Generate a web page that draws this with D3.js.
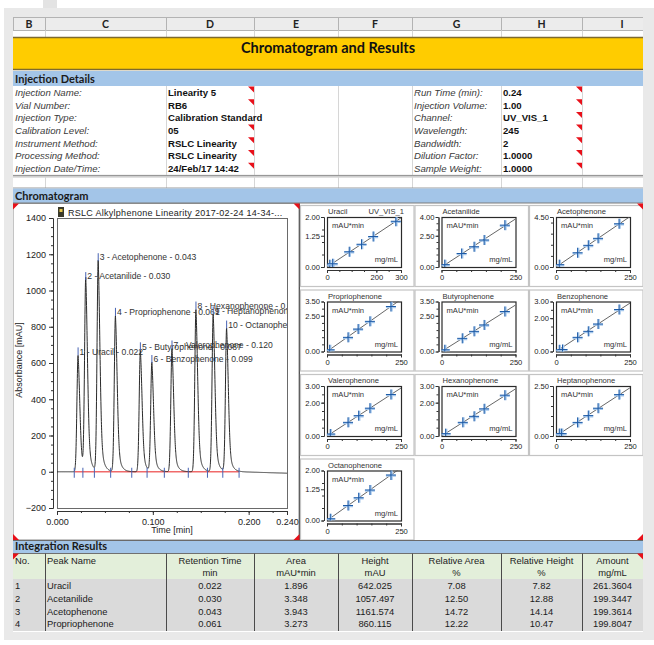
<!DOCTYPE html>
<html>
<head>
<meta charset="utf-8">
<script src="https://cdn.jsdelivr.net/npm/d3@7"></script>
<style>
  body { margin: 0; background: #fff; }
  svg { display: block; }
</style>
</head>
<body>
<div id="report"></div>
<script>
// ---------- data ----------
const colLetters = ['B', 'C', 'D', 'E', 'F', 'G', 'H', 'I'];

const detailLabelsLeft = ['Injection Name:', 'Vial Number:', 'Injection Type:', 'Calibration Level:', 'Instrument Method:', 'Processing Method:', 'Injection Date/Time:'];
const detailValuesLeft = ['Linearity 5', 'RB6', 'Calibration Standard', '05', 'RSLC Linearity', 'RSLC Linearity', '24/Feb/17 14:42'];
const detailLabelsRight = ['Run Time (min):', 'Injection Volume:', 'Channel:', 'Wavelength:', 'Bandwidth:', 'Dilution Factor:', 'Sample Weight:'];
const detailValuesRight = ['0.24', '1.00', 'UV_VIS_1', '245', '2', '1.0000', '1.0000'];

const chromTitle = 'RSLC Alkylphenone Linearity 2017-02-24 14-34-...';
const peakNames = ['Uracil', 'Acetanilide', 'Acetophenone', 'Propriophenone', 'Butyrophenone', 'Benzophenone', 'Valerophenone', 'Hexanophenone', 'Heptanophenone', 'Octanophenone'];
const peakTimes = [0.022, 0.030, 0.043, 0.061, 0.087, 0.099, 0.120, 0.145, 0.163, 0.177];
const peakHeights = [642.0, 1057.5, 1161.6, 860.1, 670, 600, 680, 895, 868, 790];
const peakDelimiters = [0.018, 0.027, 0.039, 0.056, 0.078, 0.094, 0.112, 0.137, 0.157, 0.173, 0.190];
const baselineDrift = [[0, 0], [0.19, 0], [0.24, -8]];
const chromYTicks = [-200, 0, 200, 400, 600, 800, 1000, 1200, 1400];
const chromXTicks = [0, 0.1, 0.2, 0.24];

const calNames = peakNames;
const calXMax = [300, 250, 250, 250, 250, 250, 250, 250, 250, 250];
const calXTicks = [[0, 200, 300], [0, 250], [0, 250], [0, 250], [0, 250], [0, 250], [0, 250], [0, 250], [0, 250], [0, 250]];
const calYMax = [2, 4, 4.5, 3.5, 3.5, 3, 3, 3, 2.5, 2];
const calYTicks = [[0, 1.25, 2], [0, 2.5, 4], [0, 4.5], [0, 2.5, 3.5], [0, 2.5, 3.5], [0, 2, 3], [0, 2, 3], [0, 2, 3], [0, 2.5], [0, 1.25, 2]];
const calPoints = [
  [[11, 0.09], [23, 0.13], [90, 0.61], [140, 0.91], [187, 1.22], [279, 1.83]],
  [[11, 0.19], [68, 1.08], [110, 1.62], [144, 2.16], [214, 3.35]],
  [[11, 0.21], [73, 1.28], [109, 1.95], [142, 2.58], [213, 3.89]],
  [[9, 0.12], [71, 0.99], [105, 1.57], [145, 2.11], [216, 3.15]],
  [[11, 0.12], [70, 0.92], [110, 1.41], [144, 1.86], [214, 2.80]],
  [[11, 0.10], [22, 0.12], [73, 0.85], [109, 1.21], [142, 1.65], [213, 2.52]],
  [[11, 0.12], [71, 0.82], [107, 1.22], [145, 1.67], [216, 2.49]],
  [[14, 0.14], [72, 0.82], [110, 1.18], [144, 1.63], [214, 2.45]],
  [[11, 0.12], [19, 0.12], [73, 0.68], [109, 1.02], [142, 1.39], [213, 2.07]],
  [[11, 0.07], [71, 0.60], [107, 0.91], [145, 1.22], [216, 1.82]]
];

const resultHead1 = ['No.', 'Peak Name', 'Retention Time', 'Area', 'Height', 'Relative Area', 'Relative Height', 'Amount'];
const resultHead2 = ['', '', 'min', 'mAU*min', 'mAU', '%', '%', 'mg/mL'];
const resultNo = ['1', '2', '3', '4'];
const resultNames = ['Uracil', 'Acetanilide', 'Acetophenone', 'Propriophenone'];
const resultRT = ['0.022', '0.030', '0.043', '0.061'];
const resultArea = ['1.896', '3.348', '3.943', '3.273'];
const resultHeight = ['642.025', '1057.497', '1161.574', '860.115'];
const resultRelArea = ['7.08', '12.50', '14.72', '12.22'];
const resultRelHeight = ['7.82', '12.88', '14.14', '10.47'];
const resultAmount = ['261.3604', '199.3447', '199.3614', '199.8047'];

// ---------- layout ----------
const colEdges = [13, 45, 166, 254, 338, 412, 501, 582, 662];
const sheetL = 13, sheetR = 643;
const headFont = 'Lato, "Open Sans", sans-serif';
const cellFont = '"Liberation Sans", Arial, sans-serif';
const blueBand = '#a3c5e8';
const gridGrey = '#d6d6d6';

const svg = d3.select('#report').append('svg')
  .attr('width', 654)
  .attr('height', 645)
  .style('font-family', cellFont);

svg.append('rect').attr('width', 654).attr('height', 645).attr('fill', '#fff');
svg.append('rect').attr('x', 4).attr('y', 8).attr('width', 650).attr('height', 632).attr('fill', '#e9e9e9');
svg.append('rect').attr('x', 43).attr('y', 0).attr('width', 14).attr('height', 8).attr('fill', '#e3e3e3');

const defs = svg.append('defs');
defs.append('clipPath').attr('id', 'sheetClip')
  .append('rect').attr('x', sheetL).attr('y', 17).attr('width', sheetR - sheetL).attr('height', 615);

const sheet = svg.append('g').attr('clip-path', 'url(#sheetClip)');
sheet.append('rect').attr('x', sheetL).attr('y', 17).attr('width', sheetR - sheetL).attr('height', 615).attr('fill', '#fff');

function vLines(g, xs, y1, y2, color) {
  g.append('g').selectAll('line').data(xs).join('line')
    .attr('x1', d => d + 0.5).attr('x2', d => d + 0.5)
    .attr('y1', y1).attr('y2', y2)
    .attr('stroke', color);
}

function hLine(g, y, color, w = 1) {
  g.append('line').attr('x1', sheetL).attr('x2', sheetR).attr('y1', y).attr('y2', y)
    .attr('stroke', color).attr('stroke-width', w);
}

// red comment markers
function flag(g, x, y, corner) {
  const s = 6;
  const pts = {
    tr: [[x, y], [x - s, y], [x, y + s]],
    tl: [[x, y], [x + s, y], [x, y + s]],
    br: [[x, y], [x - s, y], [x, y - s]],
    bl: [[x, y], [x + s, y], [x, y - s]]
  }[corner];
  g.append('path').attr('d', d3.line()(pts) + 'Z').attr('fill', '#e8101a');
}

function band(g, y, h, label) {
  g.append('rect').attr('x', sheetL).attr('y', y).attr('width', sheetR - sheetL).attr('height', h).attr('fill', blueBand);
  g.append('text').attr('x', 15).attr('y', y + h - 3.5)
    .attr('font-family', headFont).attr('font-weight', 'bold').attr('font-size', 11).attr('fill', '#1a1a1a')
    .text(label);
}

// ---------- column header row ----------
sheet.append('g').selectAll('rect').data(colLetters).join('rect')
  .attr('x', (d, i) => colEdges[i] + 0.5).attr('y', 17.5)
  .attr('width', (d, i) => colEdges[i + 1] - colEdges[i]).attr('height', 13)
  .attr('fill', '#ececec').attr('stroke', '#b3b3b3');
sheet.append('g').selectAll('text').data(colLetters).join('text')
  .attr('x', (d, i) => (colEdges[i] + colEdges[i + 1]) / 2).attr('y', 27.5)
  .attr('text-anchor', 'middle')
  .attr('font-family', headFont).attr('font-weight', 'bold').attr('font-size', 10.5).attr('fill', '#222')
  .text(d => d);
vLines(sheet, colEdges.slice(1, 8), 30.5, 37, gridGrey);

// ---------- title ----------
sheet.append('rect').attr('x', sheetL).attr('y', 37).attr('width', sheetR - sheetL).attr('height', 33).attr('fill', '#ffcc00');
hLine(sheet, 37.5, '#7d6a2e', 1.5);
hLine(sheet, 69.5, '#7d6a2e', 1.5);
sheet.append('text').attr('x', 328).attr('y', 53)
  .attr('text-anchor', 'middle')
  .attr('font-family', headFont).attr('font-weight', 'bold').attr('font-size', 14.5).attr('fill', '#111')
  .text('Chromatogram and Results');

// ---------- injection details ----------
band(sheet, 71, 15, 'Injection Details');
const rowH = 12.7, detTop = 86;
vLines(sheet, [166, 254, 338, 412, 501, 582], detTop, detTop + rowH * 7, gridGrey);

const details = sheet.append('g');
detailLabelsLeft.forEach((lab, i) => {
  const y = detTop + i * rowH;
  details.append('text').attr('x', 15).attr('y', y + 9.8)
    .attr('font-style', 'italic').attr('font-size', 9.6).attr('fill', '#3a3a3a').text(lab);
  details.append('text').attr('x', 414).attr('y', y + 9.8)
    .attr('font-style', 'italic').attr('font-size', 9.6).attr('fill', '#3a3a3a').text(detailLabelsRight[i]);
  if (i !== 2) flag(details, 254, y + 0.5, 'tr');
  flag(details, 582, y + 0.5, 'tr');
  details.append('text').attr('x', 168).attr('y', y + 9.8)
    .attr('font-weight', 'bold').attr('font-size', 9.6).attr('fill', '#111').text(detailValuesLeft[i]);
  details.append('text').attr('x', 503).attr('y', y + 9.8)
    .attr('font-weight', 'bold').attr('font-size', 9.6).attr('fill', '#111').text(detailValuesRight[i]);
});

const blankTop = detTop + rowH * 7;
hLine(sheet, blankTop + 0.5, '#8c8c8c');
hLine(sheet, blankTop + 2, '#b0b0b0');
vLines(sheet, colEdges.slice(1, 8), blankTop + 2, 188, gridGrey);
hLine(sheet, 188, '#9a9a9a');

// ---------- chromatogram section ----------
band(sheet, 188.5, 14.5, 'Chromatogram');
hLine(sheet, 203, '#7a7a7a');

const chartTop = 203.5, chartBottom = 540;
sheet.append('rect').attr('x', sheetL).attr('y', chartTop).attr('width', 286).attr('height', chartBottom - chartTop)
  .attr('fill', '#fff').attr('stroke', '#8a8a8a');
sheet.append('line').attr('x1', 299.5).attr('x2', 299.5).attr('y1', chartTop).attr('y2', chartBottom).attr('stroke', '#555');

const xC = d3.scaleLinear().domain([0, 0.24]).range([57, 287]);
const yC = d3.scaleLinear().domain([-200, 1400]).range([508, 218]);

const chrom = sheet.append('g');

// title with small icon
chrom.append('rect').attr('x', 58).attr('y', 207).attr('width', 6).attr('height', 10).attr('fill', '#3a3a2a');
chrom.append('rect').attr('x', 59.5).attr('y', 209).attr('width', 3).attr('height', 3).attr('fill', '#e8c84a');
chrom.append('text').attr('x', 68).attr('y', 216)
  .attr('font-size', 9).attr('fill', '#222').attr('letter-spacing', 0.28)
  .text(chromTitle);

chrom.append('rect')
  .attr('x', xC(0) + 0.5).attr('y', yC(1400) + 0.5)
  .attr('width', xC(0.24) - xC(0)).attr('height', yC(-200) - yC(1400))
  .attr('fill', '#fff').attr('stroke', '#6a6a6a');

// axes
const yAxisG = chrom.append('g').attr('transform', 'translate(53,0)')
  .call(d3.axisLeft(yC).tickValues(chromYTicks).tickSize(4).tickSizeOuter(0).tickFormat(d3.format('d')));
chrom.append('g').attr('transform', 'translate(53,0)')
  .call(d3.axisLeft(yC).tickValues(d3.range(-200, 1401, 50)).tickSize(2).tickSizeOuter(0).tickFormat(''));
const xAxisG = chrom.append('g').attr('transform', 'translate(0,511)')
  .call(d3.axisBottom(xC).tickValues(chromXTicks).tickSize(4).tickSizeOuter(0).tickFormat(d3.format('.3f')));
chrom.append('g').attr('transform', 'translate(0,511)')
  .call(d3.axisBottom(xC).tickValues(d3.range(0, 0.2401, 0.025)).tickSize(2).tickSizeOuter(0).tickFormat(''));
chrom.selectAll('.domain, .tick line').attr('stroke', '#333');
[yAxisG, xAxisG].forEach(g => g.selectAll('text')
  .attr('font-family', cellFont).attr('font-size', 9).attr('fill', '#222'));
xAxisG.selectAll('text').attr('dy', '0.75em');

chrom.append('text').attr('x', 172).attr('y', 533).attr('text-anchor', 'middle')
  .attr('font-size', 9).attr('fill', '#222').text('Time [min]');
chrom.append('text').attr('transform', 'translate(22,360) rotate(-90)').attr('text-anchor', 'middle')
  .attr('font-size', 9).attr('fill', '#222').text('Absorbance [mAU]');

// trace: each peak is a sharp front with a tailing back
const baseline = d3.scaleLinear().domain(baselineDrift.map(d => d[0])).range(baselineDrift.map(d => d[1])).clamp(true);
function peakShape(dt) {
  if (dt < 0) return Math.exp(-0.5 * (dt / 0.0012) ** 2);
  return 0.65 * Math.exp(-0.5 * (dt / 0.0018) ** 2) + 0.35 * Math.exp(-dt / 0.003);
}
const traceTimes = d3.range(0, 0.24 + 1e-9, 0.0001);
const trace = traceTimes.map(t => [t, baseline(t) + d3.sum(peakTimes, (pt, i) => peakHeights[i] * peakShape(t - pt))]);

defs.append('clipPath').attr('id', 'plotClip')
  .append('rect').attr('x', xC(0)).attr('y', yC(1400)).attr('width', xC(0.24) - xC(0)).attr('height', yC(-200) - yC(1400));
const plot = chrom.append('g').attr('clip-path', 'url(#plotClip)');

plot.append('line')
  .attr('x1', xC(peakDelimiters[0])).attr('x2', xC(peakDelimiters[peakDelimiters.length - 1]))
  .attr('y1', yC(0)).attr('y2', yC(0))
  .attr('stroke', '#f06a6a').attr('stroke-width', 1.3);

plot.append('path').datum(trace)
  .attr('d', d3.line().x(d => xC(d[0])).y(d => yC(d[1])))
  .attr('fill', 'none').attr('stroke', '#2a2a2a').attr('stroke-width', 1);

plot.selectAll('.delim').data(peakDelimiters).join('line')
  .attr('class', 'delim')
  .attr('x1', d => xC(d)).attr('x2', d => xC(d))
  .attr('y1', yC(0) - 4).attr('y2', yC(0) + 6)
  .attr('stroke', '#4763b3').attr('stroke-width', 1);

const labels = plot.selectAll('.plabel').data(peakNames).join('g').attr('class', 'plabel')
  .attr('transform', (d, i) => `translate(${xC(peakTimes[i])},${yC(peakHeights[i]) - 4})`);
labels.append('line').attr('y1', -4).attr('y2', 4).attr('stroke', '#4763b3');
labels.append('text').attr('x', 1.5).attr('y', 3.2)
  .attr('font-size', 8.6).attr('fill', '#333')
  .text((d, i) => `${i + 1} - ${d} - ${peakTimes[i].toFixed(3)}`);

// ---------- calibration cells ----------
const cal = sheet.append('g');
calNames.forEach((name, i) => {
  const c = i % 3, r = Math.floor(i / 3);
  const x0 = 300 + c * 114.5, y0 = 205 + r * 84.5;
  const fx = x0 + 27, fy = y0 + 12, fw = 74, fh = 50;
  const g = cal.append('g');

  g.append('rect').attr('x', x0 + 0.5).attr('y', y0 + 0.5).attr('width', 113.5).attr('height', 81)
    .attr('fill', '#fff').attr('stroke', '#c4c4c4').attr('stroke-width', 1.2);

  const xs = d3.scaleLinear().domain([0, calXMax[i]]).range([fx, fx + fw]);
  const ys = d3.scaleLinear().domain([0, calYMax[i]]).range([fy + fh, fy]);

  g.append('text').attr('x', fx + 1).attr('y', fy - 3).attr('font-size', 7.6).attr('fill', '#333').text(name);
  if (i === 0) {
    g.append('text').attr('x', fx + fw + 3).attr('y', fy - 3).attr('text-anchor', 'end')
      .attr('font-size', 7.6).attr('fill', '#333').text('UV_VIS_1');
  }

  const ya = g.append('g').attr('transform', `translate(${fx - 3},0)`)
    .call(d3.axisLeft(ys).tickValues(calYTicks[i]).tickSize(3).tickSizeOuter(0).tickFormat(d3.format('.2f')));
  g.append('g').attr('transform', `translate(${fx - 3},0)`)
    .call(d3.axisLeft(ys).ticks(6).tickSize(2).tickSizeOuter(0).tickFormat(''));
  const xa = g.append('g').attr('transform', `translate(0,${fy + fh + 3})`)
    .call(d3.axisBottom(xs).tickValues(calXTicks[i]).tickSize(3).tickSizeOuter(0).tickFormat(d3.format('d')));
  g.append('g').attr('transform', `translate(0,${fy + fh + 3})`)
    .call(d3.axisBottom(xs).ticks(5).tickSize(2).tickSizeOuter(0).tickFormat(''));
  g.selectAll('.domain, .tick line').attr('stroke', '#333');
  [ya, xa].forEach(a => a.selectAll('text').attr('font-family', cellFont).attr('font-size', 7.6).attr('fill', '#222'));
  ya.selectAll('text').attr('x', -4);
  xa.selectAll('text').attr('y', 5);

  g.append('rect').attr('x', fx + 0.5).attr('y', fy + 0.5).attr('width', fw).attr('height', fh)
    .attr('fill', '#fff').attr('stroke', '#2a2a2a').attr('stroke-width', 1.2);

  g.append('text').attr('x', fx + 5).attr('y', fy + 11).attr('font-size', 7.6).attr('fill', '#333').text('mAU*min');
  g.append('text').attr('x', fx + fw - 3).attr('y', fy + fh - 5).attr('text-anchor', 'end')
    .attr('font-size', 7.6).attr('fill', '#333').text('mg/mL');

  const pts = calPoints[i];
  const slope = d3.sum(pts, d => d[0] * d[1]) / d3.sum(pts, d => d[0] * d[0]);
  const clipId = 'calClip' + i;
  defs.append('clipPath').attr('id', clipId)
    .append('rect').attr('x', fx).attr('y', fy).attr('width', fw).attr('height', fh);
  const inner = g.append('g').attr('clip-path', `url(#${clipId})`);
  inner.append('line')
    .attr('x1', xs(0)).attr('y1', ys(0))
    .attr('x2', xs(calXMax[i])).attr('y2', ys(slope * calXMax[i]))
    .attr('stroke', '#555').attr('stroke-width', 0.9);

  const cross = inner.selectAll('.pt').data(pts).join('g').attr('class', 'pt')
    .attr('transform', d => `translate(${xs(d[0])},${ys(d[1])})`);
  cross.append('path').attr('d', 'M-5,0.8H5M0.8,-5V5').attr('stroke', '#a6c8ec').attr('stroke-width', 2);
  cross.append('path').attr('d', 'M-5,0H5M0,-5V5').attr('stroke', '#1d5aa6').attr('stroke-width', 1);
});

flag(sheet, sheetL, chartTop, 'tl');
flag(sheet, 299.5, chartTop, 'tr');
flag(sheet, sheetR, chartTop, 'tr');
flag(sheet, sheetL, chartBottom, 'bl');
flag(sheet, 299.5, chartBottom, 'br');
flag(sheet, sheetR, chartBottom, 'br');
hLine(sheet, chartBottom + 0.5, '#6a6a6a');

// ---------- integration results ----------
band(sheet, 541, 12.5, 'Integration Results');
const tHeadTop = 553.5, tHeadH = 25.5, tRowH = 12.75;
const table = sheet.append('g');
table.append('rect').attr('x', sheetL).attr('y', tHeadTop).attr('width', sheetR - sheetL).attr('height', tHeadH).attr('fill', '#e3efda');
table.append('rect').attr('x', sheetL).attr('y', tHeadTop + tHeadH).attr('width', sheetR - sheetL).attr('height', tRowH * 4 + 1).attr('fill', '#dadada');
hLine(table, tHeadTop, '#707070');
vLines(table, colEdges.slice(1, 8), tHeadTop, tHeadTop + tHeadH + tRowH * 4 + 1, '#4a4a4a');

const centerOf = k => (colEdges[k] + Math.min(colEdges[k + 1], sheetR)) / 2;
const anchorX = k => (k < 2 ? colEdges[k] + 2 : centerOf(k));
const anchorOf = k => (k < 2 ? 'start' : 'middle');

resultHead1.forEach((h, k) => {
  table.append('text').attr('x', anchorX(k)).attr('y', tHeadTop + 10.5).attr('text-anchor', anchorOf(k))
    .attr('font-size', 9.4).attr('fill', '#222').text(h);
  table.append('text').attr('x', anchorX(k)).attr('y', tHeadTop + 22.5).attr('text-anchor', anchorOf(k))
    .attr('font-size', 9.4).attr('fill', '#222').text(resultHead2[k]);
});

const resultCols = [resultNo, resultNames, resultRT, resultArea, resultHeight, resultRelArea, resultRelHeight, resultAmount];
resultCols.forEach((col, k) => {
  table.append('g').selectAll('text').data(col).join('text')
    .attr('x', anchorX(k)).attr('y', (d, j) => tHeadTop + tHeadH + j * tRowH + 10)
    .attr('text-anchor', anchorOf(k))
    .attr('font-size', 9.4).attr('fill', '#1a1a1a')
    .text(d => d);
});
flag(table, sheetL, tHeadTop, 'tl');
flag(table, sheetR, tHeadTop, 'tr');
</script>
</body>
</html>
